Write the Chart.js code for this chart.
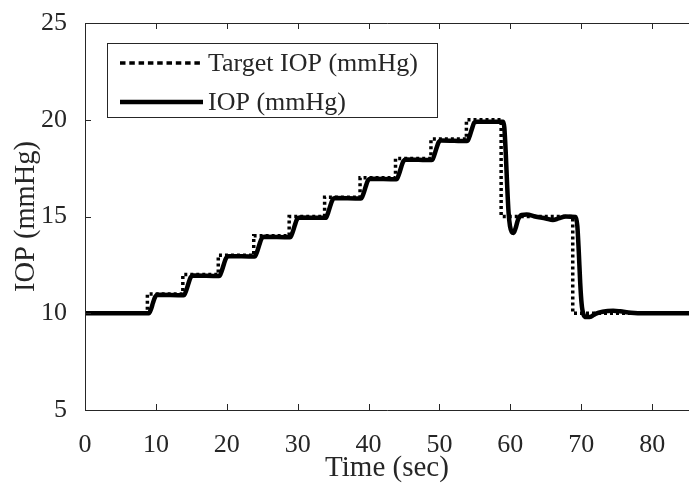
<!DOCTYPE html>
<html>
<head>
<meta charset="utf-8">
<script src="https://cdn.jsdelivr.net/npm/chart.js@4/dist/chart.umd.min.js"></script>
<style>
  html, body { margin: 0; padding: 0; background: #fff; }
  #wrap { width: 689px; height: 487px; position: relative; }
</style>
</head>
<body>
<div id="wrap"><canvas id="iopChart"></canvas></div>
<script>
// ── Data ──

// target IOP: change points (time in sec, new level in mmHg)
const targetTimes = [0, 8.8, 13.8, 18.8, 23.8, 28.8, 33.8, 38.8, 43.8, 48.8, 53.8, 58.7, 68.8];
const targetLevels = [10, 11, 12, 13, 14, 15, 16, 17, 18, 19, 20, 15, 10];
const timeEnd = 85.2;

// measured IOP
const iopTimes = [
    0, 9.0, 9.3, 9.6, 9.9, 10.25,
    13.9, 14.0, 14.3, 14.6, 14.9, 15.25,
    18.9, 19.0, 19.3, 19.6, 19.9, 20.25,
    23.9, 24.0, 24.3, 24.6, 24.9, 25.25,
    28.9, 29.0, 29.3, 29.6, 29.9, 30.25,
    33.9, 34.0, 34.3, 34.6, 34.9, 35.25,
    38.9, 39.0, 39.3, 39.6, 39.9, 40.25,
    43.9, 44.0, 44.3, 44.6, 44.9, 45.25,
    48.9, 49.0, 49.3, 49.6, 49.9, 50.25,
    53.9, 54.0, 54.3, 54.6, 54.9, 55.3,
    59.0, 59.15, 59.35, 59.55, 59.75, 59.95, 60.2, 60.45, 60.7, 61.1, 61.6, 62.3,
    63.5, 65.0, 66.0, 66.8, 67.8, 69.2, 69.45, 69.65, 69.85, 70.05, 70.3, 70.7,
    71.2, 72.0, 73.0, 74.5, 75.5, 77.0, 79.0, 85.2,
];
const iopValues = [
    10, 10, 10.2, 10.55, 10.85, 10.95,
    10.93, 10.94, 11.2, 11.55, 11.85, 11.95,
    11.93, 11.94, 12.2, 12.55, 12.85, 12.95,
    12.93, 12.94, 13.2, 13.55, 13.85, 13.95,
    13.93, 13.94, 14.2, 14.55, 14.85, 14.95,
    14.93, 14.94, 15.2, 15.55, 15.85, 15.95,
    15.93, 15.94, 16.2, 16.55, 16.85, 16.95,
    16.93, 16.94, 17.2, 17.55, 17.85, 17.95,
    17.92, 17.93, 18.2, 18.55, 18.85, 18.93,
    18.9, 18.92, 19.2, 19.55, 19.85, 19.9,
    19.9, 19.6, 18.3, 16.6, 15.2, 14.5, 14.2, 14.15, 14.35, 14.85, 15.08, 15.1,
    15.0, 14.9, 14.82, 14.9, 15.0, 14.97, 14.5, 13.2, 11.6, 10.5, 9.95, 9.8,
    9.8, 9.97, 10.08, 10.13, 10.1, 10.03, 10.0, 10.0,
];

const yTicks = [5, 10, 15, 20, 25];
const xTicks = [0, 10, 20, 30, 40, 50, 60, 70, 80];

const SERIF = "'Liberation Serif', 'Times New Roman', serif";
const INK = "#262626";

// step series built from the change points
const targetPoints = [];
targetTimes.forEach((t, i) => {
    if (i > 0) targetPoints.push({ x: t, y: targetLevels[i - 1] });
    targetPoints.push({ x: t, y: targetLevels[i] });
});
targetPoints.push({ x: timeEnd, y: targetLevels[targetLevels.length - 1] });

const iopPoints = iopTimes.map((t, i) => ({ x: t, y: iopValues[i] }));

// ── MATLAB-like frame: inward ticks, top border, boxed legend ──

const framePlugin = {
    id: "frame",
    afterDatasetsDraw(chart) {
        const { ctx, chartArea: a, scales } = chart;
        const px = (v) => Math.round(v) + 0.5;
        ctx.save();
        ctx.strokeStyle = INK;
        ctx.lineWidth = 1;
        ctx.setLineDash([]);
        ctx.beginPath();
        // left, bottom, top
        ctx.moveTo(px(a.left), px(a.top));
        ctx.lineTo(px(a.left), px(a.bottom));
        ctx.moveTo(px(a.left), px(a.bottom));
        ctx.lineTo(a.right, px(a.bottom));
        ctx.moveTo(px(a.left), px(a.top));
        ctx.lineTo(a.right, px(a.top));
        const tl = 6;
        xTicks.forEach((v) => {
            const x = px(scales.x.getPixelForValue(v));
            ctx.moveTo(x, a.bottom);
            ctx.lineTo(x, a.bottom - tl);
            ctx.moveTo(x, a.top);
            ctx.lineTo(x, a.top + tl);
        });
        yTicks.forEach((v) => {
            const y = px(scales.y.getPixelForValue(v));
            ctx.moveTo(a.left, y);
            ctx.lineTo(a.left + tl, y);
        });
        ctx.stroke();

        // legend box
        const box = { x: 107, y: 43, w: 330, h: 74 };
        ctx.fillStyle = "#fff";
        ctx.fillRect(box.x, box.y, box.w, box.h);
        ctx.strokeRect(px(box.x), px(box.y), box.w, box.h);

        const rows = [63, 102];
        chart.data.datasets.forEach((ds, i) => {
            const y = rows[i];
            ctx.beginPath();
            ctx.strokeStyle = ds.borderColor;
            ctx.lineWidth = ds.borderWidth;
            ctx.setLineDash(ds.legendDash || []);
            ctx.moveTo(120, y);
            ctx.lineTo(203, y);
            ctx.stroke();
            ctx.setLineDash([]);
            ctx.fillStyle = INK;
            ctx.font = `26px ${SERIF}`;
            ctx.textBaseline = "middle";
            ctx.textAlign = "left";
            ctx.fillText(ds.label, 208, y + 1);
        });
        ctx.restore();
    },
};

const ctx = document.getElementById("iopChart").getContext("2d");
new Chart(ctx, {
    type: "line",
    data: {
        datasets: [
            {
                label: "Target IOP (mmHg)",
                data: targetPoints,
                borderColor: "#000",
                borderWidth: 3.5,
                borderDash: [3, 3],
                legendDash: [5.5, 3.8],
                pointRadius: 0,
                tension: 0,
                order: 0,
            },
            {
                label: "IOP (mmHg)",
                data: iopPoints,
                borderColor: "#000",
                borderWidth: 4.5,
                pointRadius: 0,
                cubicInterpolationMode: "monotone",
                order: 1,
            },
        ],
    },
    options: {
        responsive: true,
        maintainAspectRatio: false,
        animation: false,
        layout: { padding: { top: 21, right: 0, left: 0, bottom: 0 } },
        plugins: {
            legend: { display: false },
            tooltip: { enabled: false },
        },
        scales: {
            x: {
                type: "linear",
                min: 0,
                max: timeEnd,
                grid: { display: false },
                border: { display: false },
                ticks: {
                    stepSize: 10,
                    includeBounds: false,
                    color: INK,
                    font: { family: SERIF, size: 26, lineHeight: 1 },
                    padding: 14,
                    maxRotation: 0,
                },
                title: {
                    display: true,
                    text: "Time (sec)",
                    color: INK,
                    font: { family: SERIF, size: 29, lineHeight: 1 },
                    padding: { top: 0, bottom: 4 },
                },
                afterFit: (axis) => { axis.height = 77; },
            },
            y: {
                min: 5,
                max: 25,
                grid: { display: false },
                border: { display: false },
                ticks: {
                    stepSize: 5,
                    color: INK,
                    font: { family: SERIF, size: 26, lineHeight: 1 },
                    padding: 10,
                },
                title: {
                    display: true,
                    text: "IOP (mmHg)",
                    color: INK,
                    font: { family: SERIF, size: 28.5, lineHeight: 1 },
                    padding: { top: 12, bottom: 0 },
                },
                afterFit: (axis) => { axis.width = 85; },
            },
        },
    },
    plugins: [framePlugin],
});
</script>
</body>
</html>
